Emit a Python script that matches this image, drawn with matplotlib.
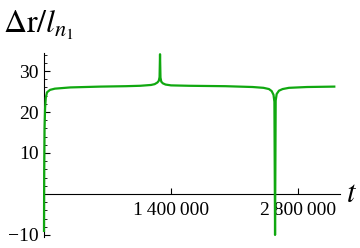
import numpy as np
import matplotlib.pyplot as plt
from matplotlib.ticker import FixedLocator, MultipleLocator

# values (t in units of 1e6)
t_mln = [0.0, 0.002, 0.006, 0.012, 0.02, 0.033, 0.066, 0.12, 0.29, 0.62, 0.9,
         1.06, 1.18, 1.22, 1.25, 1.265, 1.274, 1.279, 1.284, 1.293, 1.31, 1.34,
         1.4, 1.6, 2.0, 2.3, 2.42, 2.48, 2.51, 2.53, 2.54, 2.547, 2.554, 2.565,
         2.59, 2.63, 2.7, 2.9, 3.2]
dr_ratio = [-9.0, 5.0, 16.0, 21.0, 23.5, 24.8, 25.4, 25.7, 26.0, 26.2, 26.3,
            26.4, 26.6, 26.8, 27.2, 27.6, 28.5, 34.1, 28.4, 27.4, 27.0, 26.7,
            26.5, 26.4, 26.3, 26.1, 25.9, 25.6, 25.1, 24.2, 22.5, -10.0, 22.8,
            24.4, 25.2, 25.6, 25.9, 26.1, 26.2]

x_ticks = [1400000, 2800000]
x_tick_labels = ["1\u2009400\u2009000", "2\u2009800\u2009000"]
y_ticks = [-10, 10, 20, 30]

plt.rcParams['font.family'] = ['Liberation Serif', 'DejaVu Serif']
plt.rcParams['mathtext.fontset'] = 'stix'

fig = plt.figure(figsize=(3.6, 2.48), dpi=100)
ax = fig.add_axes([44 / 360, 11 / 248, 296 / 360, 184 / 248])

ax.plot(np.array(t_mln) * 1e6, dr_ratio, color='#10a810', lw=1.6,
        zorder=3, clip_on=False)

ax.set_xlim(0, 3.263e6)
ax.set_ylim(-10.5, 34.4)

for side in ['top', 'right']:
    ax.spines[side].set_visible(False)
ax.spines['left'].set_position(('data', 0))
ax.spines['bottom'].set_position(('data', 0))
for side in ['left', 'bottom']:
    ax.spines[side].set_linewidth(0.8)

ax.xaxis.set_major_locator(FixedLocator(x_ticks))
ax.set_xticklabels(x_tick_labels)
ax.yaxis.set_major_locator(FixedLocator(y_ticks))
ax.yaxis.set_minor_locator(MultipleLocator(2))
ax.tick_params(axis='both', which='major', direction='in', length=4,
               width=0.8, labelsize=14)
ax.tick_params(axis='x', pad=6)
ax.tick_params(axis='y', pad=4)
ax.tick_params(axis='y', which='minor', direction='in', length=2.5, width=0.6)

fig.text(3 / 360, 1 - 33 / 248, r'$\Delta\mathrm{r}/l_{n_1}$', fontsize=23,
         ha='left', va='baseline')
fig.text(346 / 360, 1 - 194 / 248, r'$t$', fontsize=22, ha='left', va='center')

fig.savefig('out.png', dpi=100)
